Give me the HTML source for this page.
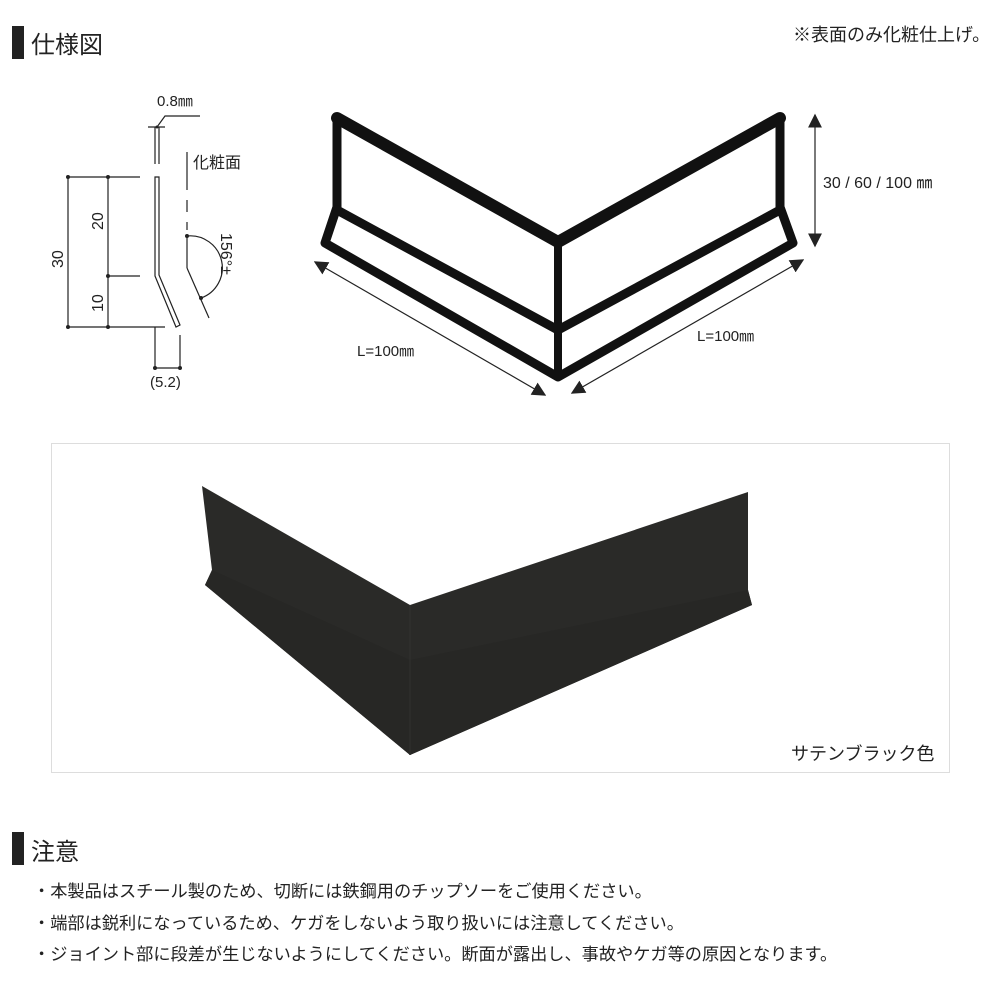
<!DOCTYPE html>
<html><head><meta charset="utf-8"><style>
html,body{margin:0;padding:0;background:#fff;}
svg{display:block;}
text{font-family:"Liberation Sans","Noto Sans CJK JP",sans-serif;fill:#222;}
</style></head><body>
<svg width="1000" height="1000" viewBox="0 0 1000 1000" xmlns="http://www.w3.org/2000/svg">
<defs>
<marker id="ar" viewBox="0 0 10 10" refX="9" refY="5" markerWidth="14" markerHeight="14" markerUnits="userSpaceOnUse" orient="auto-start-reverse"><path d="M0,0 L10,5 L0,10 z" fill="#222"/></marker>
</defs>
<rect x="12" y="26" width="12" height="33" fill="#222"/>
<text x="31" y="53" font-size="24">仕様図</text>
<text x="793" y="41" font-size="18">※表面のみ化粧仕上げ。</text>

<g stroke="#222" stroke-width="1.2" fill="none">
<line x1="148" y1="127" x2="165" y2="127"/>
<polyline points="157,127 165,116 200,116"/>
<line x1="155" y1="127" x2="155" y2="164"/><line x1="159" y1="127" x2="159" y2="164"/>
<path d="M155,177 L155,276 L176,327 L180,325 L159,275 L159,177 Z"/>
<line x1="68" y1="177" x2="140" y2="177"/>
<line x1="108" y1="276" x2="140" y2="276"/>
<line x1="68" y1="327" x2="165" y2="327"/>
<line x1="68" y1="177" x2="68" y2="327"/>
<line x1="108" y1="177" x2="108" y2="327"/>
<line x1="155" y1="327" x2="155" y2="368"/>
<line x1="180" y1="335" x2="180" y2="368"/>
<line x1="155" y1="368" x2="180" y2="368"/>
<line x1="187" y1="152" x2="187" y2="190"/>
<line x1="187" y1="200" x2="187" y2="212"/>
<line x1="187" y1="222" x2="187" y2="230"/>
<line x1="187" y1="236" x2="187" y2="268"/>
<line x1="187" y1="268" x2="209" y2="318"/>
<path d="M187,236 A32,32 0 0 1 201,298"/>
</g>
<g fill="#222">
<circle cx="68" cy="177" r="2"/><circle cx="108" cy="177" r="2"/><circle cx="108" cy="276" r="2"/>
<circle cx="68" cy="327" r="2"/><circle cx="108" cy="327" r="2"/>
<circle cx="155" cy="368" r="2"/><circle cx="180" cy="368" r="2"/>
<circle cx="187" cy="236" r="2"/><circle cx="201" cy="298" r="2"/>
<circle cx="157" cy="127" r="1.5"/>
</g>
<text x="157" y="106" font-size="15">0.8㎜</text>
<text x="193" y="168" font-size="16">化粧面</text>
<text x="150" y="387" font-size="15">(5.2)</text>
<text transform="translate(63,268) rotate(-90)" font-size="16">30</text>
<text transform="translate(103,230) rotate(-90)" font-size="16">20</text>
<text transform="translate(103,312) rotate(-90)" font-size="16">10</text>
<text transform="translate(221,233) rotate(90)" font-size="16">156°±</text>

<g stroke="#111" fill="none" stroke-linejoin="round" stroke-linecap="round">
<path d="M337,118 L558,242 L780,118" stroke-width="12"/>
<path d="M337,118 L337,207 L325,243 L558,377 L793,243 L780,207 L780,118" stroke-width="9"/>
<path d="M337,210 L558,330 L780,210" stroke-width="9"/>
<path d="M558,242 L558,377" stroke-width="8"/>
</g>
<g stroke="#222" stroke-width="1.2" fill="none">
<line x1="315" y1="262" x2="545" y2="395" marker-start="url(#ar)" marker-end="url(#ar)"/>
<line x1="572" y1="393" x2="803" y2="260" marker-start="url(#ar)" marker-end="url(#ar)"/>
<line x1="815" y1="115" x2="815" y2="246" marker-start="url(#ar)" marker-end="url(#ar)"/>
</g>
<text x="823" y="188" font-size="16">30 / 60 / 100 ㎜</text>
<text x="357" y="356" font-size="15">L=100㎜</text>
<text x="697" y="341" font-size="15">L=100㎜</text>

<rect x="51.5" y="443.5" width="898" height="329" fill="#fff" stroke="#ddd" stroke-width="1"/>
<path d="M202,486 L410,605 L748,492 L748,590 L752,605 L410,755 L205,585 L212,570 Z" fill="#2a2a28"/>
<path d="M212,570 L410,660 L748,590 L752,605 L410,755 L205,585 Z" fill="#272725"/>
<path d="M410,605 L410,755" stroke="#2f2f2d" stroke-width="1.5"/>
<text x="791" y="760" font-size="18">サテンブラック色</text>

<rect x="12" y="832" width="12" height="33" fill="#222"/>
<text x="31" y="860" font-size="24">注意</text>
<text x="33" y="897" font-size="17.2">・本製品はスチール製のため、切断には鉄鋼用のチップソーをご使用ください。</text>
<text x="33" y="929" font-size="17.2">・端部は鋭利になっているため、ケガをしないよう取り扱いには注意してください。</text>
<text x="33" y="960" font-size="17.2">・ジョイント部に段差が生じないようにしてください。断面が露出し、事故やケガ等の原因となります。</text>
</svg>
</body></html>
